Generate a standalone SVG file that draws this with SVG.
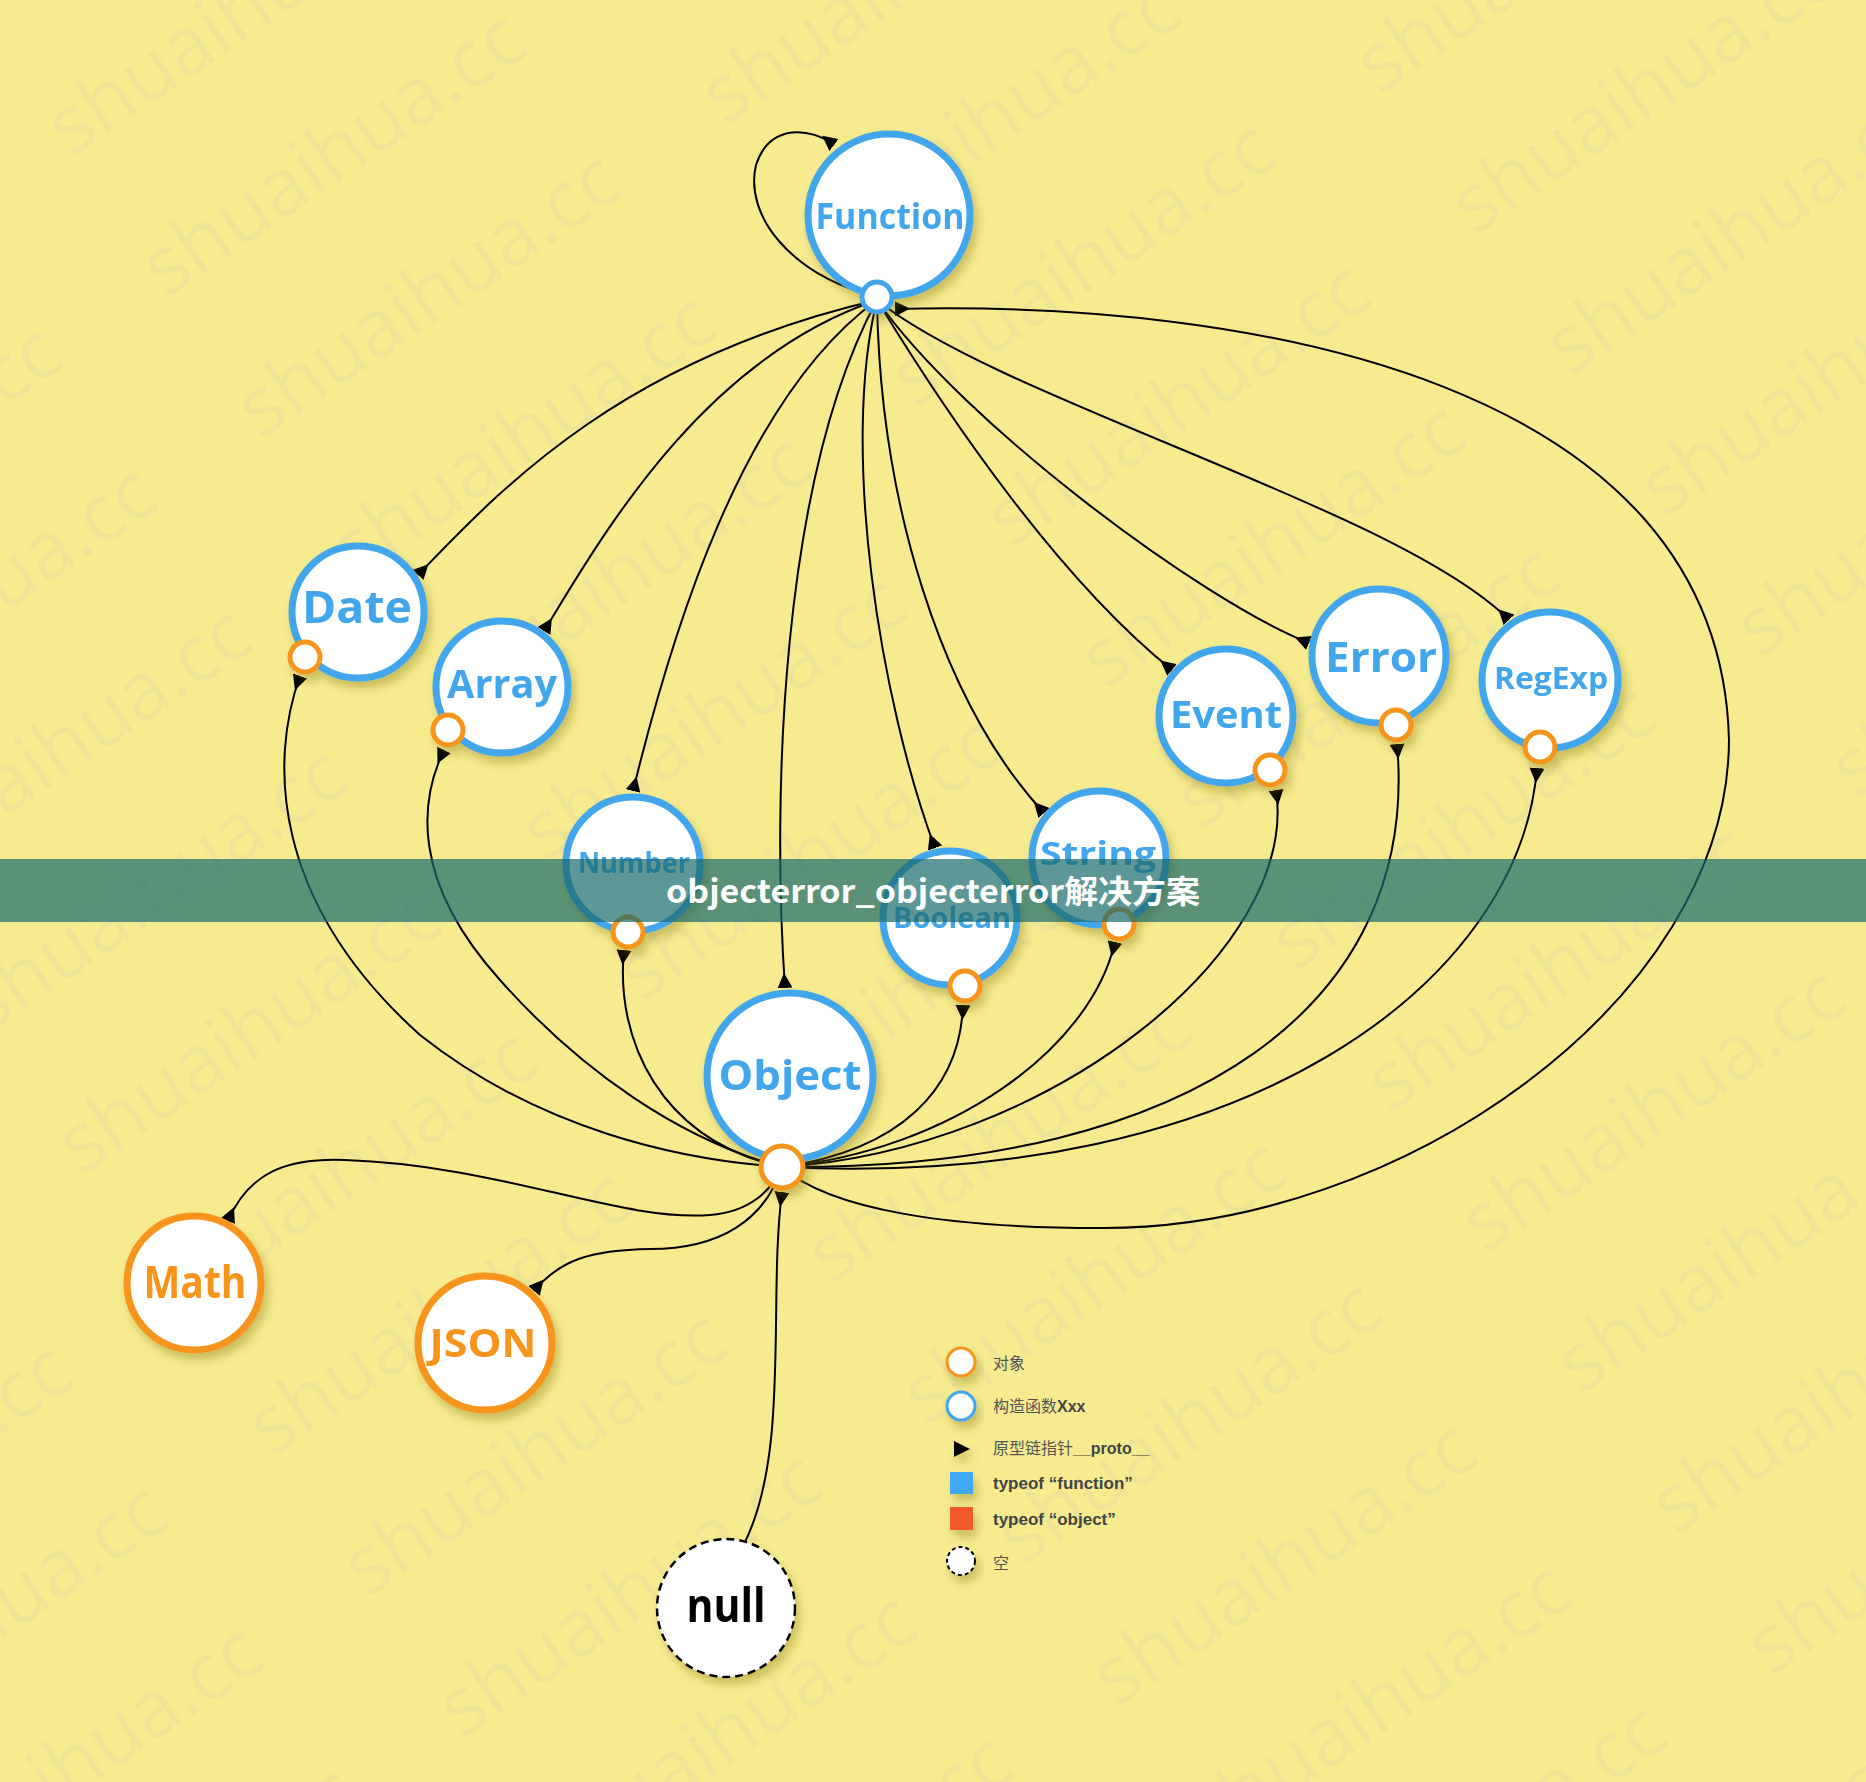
<svg xmlns="http://www.w3.org/2000/svg" width="1866" height="1782" viewBox="0 0 1866 1782">
<defs>
<style>
.edge{fill:none;stroke:#000;stroke-width:2;marker-start:url(#arr)}
.ctor{fill:#fff;stroke:#42a6ec;stroke-width:7}
.obj{fill:#fff;stroke:#f7941e;stroke-width:7}
.pb{fill:#fff;stroke:#42a6ec;stroke-width:5}
.po{fill:#fff;stroke:#f7941e;stroke-width:5}
.lb{font-family:"Open Sans","Liberation Sans",sans-serif;font-weight:700;fill:#42a6ec;text-anchor:middle}
.lo{font-family:"Open Sans","Liberation Sans",sans-serif;font-weight:700;fill:#f7941e;text-anchor:middle}
.leg{font-family:"Liberation Sans","Noto Sans CJK SC",sans-serif;font-size:16px;fill:#555}
.legb{font-family:"Liberation Sans","Noto Sans CJK SC",sans-serif;font-size:17px;font-weight:700;fill:#444}
.wm{font-family:"Open Sans","Liberation Sans",sans-serif;font-size:80px;fill:#d8d0a8;opacity:0.25}
</style>
<marker id="arr" viewBox="0 0 10 10" refX="0" refY="5" markerWidth="15" markerHeight="15" markerUnits="userSpaceOnUse" orient="auto"><path d="M0,0 L10,5 L0,10 z" fill="#000"/></marker>
<filter id="sh" x="-30%" y="-30%" width="160%" height="170%"><feDropShadow dx="4" dy="7" stdDeviation="5" flood-color="#7a6a10" flood-opacity="0.35"/></filter>
<pattern id="wmp" width="560" height="170" patternUnits="userSpaceOnUse" patternTransform="rotate(-34) translate(-40,60)"><text class="wm" x="10" y="110">shuaihua.cc</text></pattern>
</defs>
<rect width="1866" height="1782" fill="#f6eb8f"/>
<rect width="1866" height="1782" fill="url(#wmp)"/>

<g id="connectors">
<path class="edge" d="M834,145 C812,128 770,122 756,165 C744,215 790,275 877,297"/>
<path class="edge" d="M418,575 C500,490 620,360 877,300"/>
<path class="edge" d="M544,631 C600,540 700,360 877,300"/>
<path class="edge" d="M633,791 C670,640 740,400 877,300"/>
<path class="edge" d="M785,988 C772,800 780,480 877,300"/>
<path class="edge" d="M935,848 C880,700 840,450 877,300"/>
<path class="edge" d="M1044,813 C940,700 880,500 877,300"/>
<path class="edge" d="M1172,670 C1060,580 950,420 877,300"/>
<path class="edge" d="M1309,643 C1200,600 960,420 877,300"/>
<path class="edge" d="M1509,620 C1400,510 1000,400 877,300"/>
<path class="edge" d="M895,309 C1250,300 1720,380 1729,740 C1728,1000 1400,1230 1100,1228 C950,1228 830,1210 782,1167"/>
<path class="edge" d="M300,676 C270,760 270,900 420,1035 C540,1130 680,1160 782,1167"/>
<path class="edge" d="M444,750 C420,800 410,880 500,980 C580,1070 680,1140 782,1167"/>
<path class="edge" d="M624,950 C615,1040 660,1140 782,1167"/>
<path class="edge" d="M963,1005 C960,1090 900,1150 782,1167"/>
<path class="edge" d="M1115,942 C1090,1050 950,1150 782,1167"/>
<path class="edge" d="M1276,790 C1300,950 1050,1150 782,1167"/>
<path class="edge" d="M1397,744 C1420,1000 1200,1170 782,1167"/>
<path class="edge" d="M1537,768 C1520,980 1250,1190 782,1167"/>
<path class="edge" d="M782,1192 C768,1300 790,1450 745,1542"/>
<path class="edge" d="M228,1221 C250,1170 290,1158 345,1160 C500,1165 620,1222 710,1215 C750,1212 772,1190 782,1167"/>
<path class="edge" d="M534,1291 C560,1260 590,1250 650,1249 C720,1249 765,1220 782,1167"/>
</g>

<g id="node-function" filter="url(#sh)">
<circle class="ctor" cx="889" cy="215" r="81"/>
<text class="lb" x="890" y="229" font-size="35" textLength="149" lengthAdjust="spacingAndGlyphs">Function</text>
<circle class="pb" cx="877" cy="297" r="15"/>
</g>
<g id="node-date" filter="url(#sh)">
<circle class="ctor" cx="358" cy="612" r="66"/>
<text class="lb" x="357" y="623" font-size="45" textLength="110" lengthAdjust="spacingAndGlyphs">Date</text>
<circle class="po" cx="305" cy="657" r="15"/>
</g>
<g id="node-array" filter="url(#sh)">
<circle class="ctor" cx="502" cy="687" r="66"/>
<text class="lb" x="502" y="698" font-size="39" textLength="110" lengthAdjust="spacingAndGlyphs">Array</text>
<circle class="po" cx="448" cy="730" r="15"/>
</g>
<g id="node-number" filter="url(#sh)">
<circle class="ctor" cx="633" cy="864" r="67"/>
<text class="lb" x="634" y="873" font-size="28" textLength="112" lengthAdjust="spacingAndGlyphs">Number</text>
<circle class="po" cx="628" cy="932" r="15"/>
</g>
<g id="node-boolean" filter="url(#sh)">
<circle class="ctor" cx="950" cy="918" r="67"/>
<text class="lb" x="952" y="928" font-size="29" textLength="118" lengthAdjust="spacingAndGlyphs">Boolean</text>
<circle class="po" cx="965" cy="986" r="15"/>
</g>
<g id="node-string" filter="url(#sh)">
<circle class="ctor" cx="1099" cy="858" r="67"/>
<text class="lb" x="1098" y="865" font-size="32" textLength="116" lengthAdjust="spacingAndGlyphs">String</text>
<circle class="po" cx="1119" cy="924" r="15"/>
</g>
<g id="node-event" filter="url(#sh)">
<circle class="ctor" cx="1226" cy="716" r="67"/>
<text class="lb" x="1226" y="728" font-size="38" textLength="112" lengthAdjust="spacingAndGlyphs">Event</text>
<circle class="po" cx="1270" cy="770" r="15"/>
</g>
<g id="node-error" filter="url(#sh)">
<circle class="ctor" cx="1379" cy="656" r="67"/>
<text class="lb" x="1381" y="672" font-size="42" textLength="112" lengthAdjust="spacingAndGlyphs">Error</text>
<circle class="po" cx="1396" cy="725" r="15"/>
</g>
<g id="node-regexp" filter="url(#sh)">
<circle class="ctor" cx="1550" cy="680" r="68"/>
<text class="lb" x="1551" y="689" font-size="31" textLength="114" lengthAdjust="spacingAndGlyphs">RegExp</text>
<circle class="po" cx="1540" cy="747" r="15"/>
</g>
<g id="node-object" filter="url(#sh)">
<circle class="ctor" cx="790" cy="1076" r="83"/>
<text class="lb" x="790" y="1090" font-size="42" textLength="143" lengthAdjust="spacingAndGlyphs">Object</text>
<circle class="po" cx="782" cy="1167" r="21"/>
</g>
<g id="node-math" filter="url(#sh)">
<circle class="obj" cx="194" cy="1283" r="67"/>
<text class="lo" x="195" y="1298" font-size="44" textLength="103" lengthAdjust="spacingAndGlyphs">Math</text>
</g>
<g id="node-json" filter="url(#sh)">
<circle class="obj" cx="485" cy="1343" r="67"/>
<text class="lo" x="483" y="1357" font-size="39" textLength="107" lengthAdjust="spacingAndGlyphs">JSON</text>
</g>
<g id="node-null" filter="url(#sh)">
<circle cx="726" cy="1608" r="69" fill="#fff" stroke="#000" stroke-width="2.5" stroke-dasharray="8,5"/>
<text x="726" y="1622" font-family="Open Sans, Liberation Sans, sans-serif" font-weight="700" font-size="47" fill="#000" text-anchor="middle" textLength="79" lengthAdjust="spacingAndGlyphs">null</text>
</g>

<g id="legend">
<g filter="url(#sh)">
<circle cx="961" cy="1362" r="14" fill="#fff" stroke="#f7941e" stroke-width="3"/>
<circle cx="961" cy="1406" r="14" fill="#fff" stroke="#42a6ec" stroke-width="3"/>
<path d="M954,1441 L970,1449 L954,1457 z" fill="#000"/>
<rect x="950" y="1472" width="23" height="22" fill="#3fa9f5"/>
<rect x="950" y="1507" width="23" height="23" fill="#f15a29"/>
<circle cx="961" cy="1561" r="14" fill="#fff" stroke="#000" stroke-width="2" stroke-dasharray="4,3"/>
</g>
<text class="leg" x="993" y="1369">对象</text>
<text class="leg" x="993" y="1412">构造函数<tspan font-weight="700" fill="#444">Xxx</tspan></text>
<text class="leg" x="993" y="1454">原型链指针<tspan font-weight="700" fill="#444">__proto__</tspan></text>
<text class="legb" x="993" y="1489">typeof “function”</text>
<text class="legb" x="993" y="1525">typeof “object”</text>
<text class="leg" x="993" y="1569">空</text>
</g>

<g id="banner">
<rect x="0" y="859" width="1866" height="63" fill="#1a6b6b" opacity="0.7"/>
<text x="933" y="903" font-family="Noto Sans CJK SC, sans-serif" font-weight="700" font-size="32" fill="#fff" text-anchor="middle" textLength="534" lengthAdjust="spacingAndGlyphs">objecterror_objecterror解决方案</text>
</g>
</svg>
